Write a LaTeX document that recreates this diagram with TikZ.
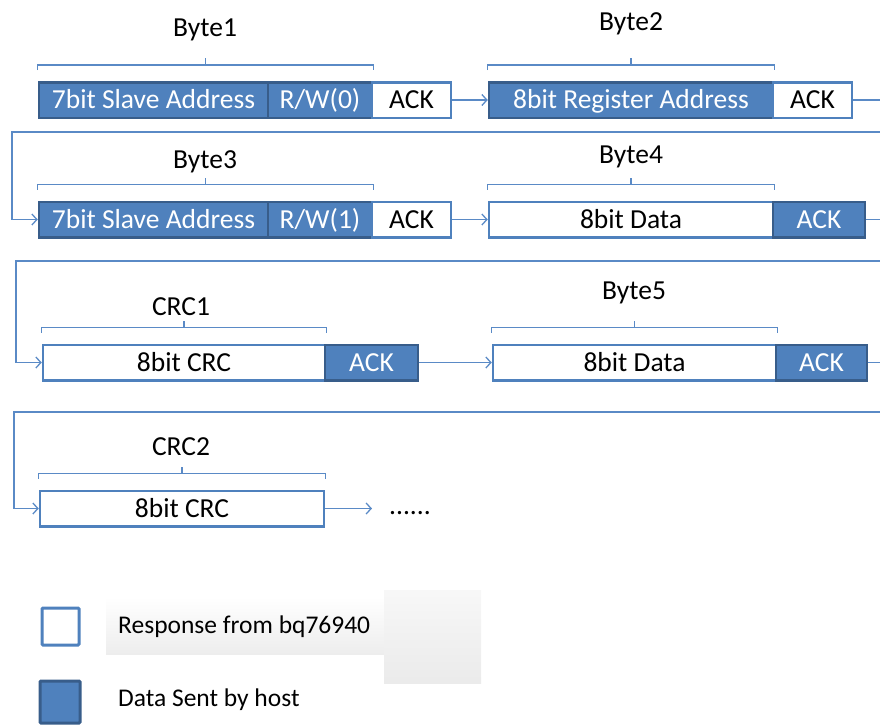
\documentclass[tikz,border=0pt]{standalone}
\usepackage{fontspec}
\setmainfont{Carlito}
\usetikzlibrary{calc,arrows.meta}
\definecolor{hostblue}{HTML}{4F81BD}
\definecolor{hostedge}{HTML}{385D8A}
\definecolor{wireblue}{HTML}{5A8AC6}
\tikzset{
	cellfont/.style={font=\fontsize{27.5}{32}\selectfont, text height=17.7pt, text depth=0pt},
	host/.style={cellfont, draw=hostedge, fill=hostblue, text=white, line width=2.5pt, minimum height=35.5pt, inner sep=0pt},
	resp/.style={cellfont, draw=hostblue, fill=white, text=black, line width=2.5pt, minimum height=35.5pt, inner sep=0pt},
	link/.style={draw=wireblue, line width=1.3pt, -{Straight Barb[length=5pt,width=11pt]}},
	brace/.style={draw=wireblue, line width=1.2pt},
	bytelabel/.style={cellfont, text=black},
	keylabel/.style={font=\fontsize{25.5}{30}\selectfont, text height=16.4pt, text depth=0pt, text=black}
}
\def\bytebrace(#1)(#2){\draw[brace] ([yshift=11pt]#1.north west) -- ([yshift=16pt]#1.north west) -- ([yshift=16pt]#2.north east) -- ([yshift=11pt]#2.north east);
	\draw[brace] ($([yshift=16pt]#1.north west)!0.5!([yshift=16pt]#2.north east)$) -- ++(0,-7);}

\begin{document}
\begin{tikzpicture}[x=1pt, y=-1pt]
		%%%%% START %%%%%
		\useasboundingbox (0, 0) rectangle (880, 724);
		\clip (0, 0) rectangle (880, 724);
		
		% first row: write slave address, register address
		\node[host, minimum width=229] (saddr1) at (153.5, 100) {7bit Slave Address};
		\node[host, minimum width=104] (rw1) at (320, 100) {R/W(0)};
		\node[resp, minimum width=79] (ack1) at (411.5, 100) {ACK};
		\node[host, minimum width=284] (reg) at (631, 100) {8bit Register Address};
		\node[resp, minimum width=79] (ack2) at (812.5, 100) {ACK};
		\node[bytelabel] (lbyte1) at (205, 28) {Byte1};
		\node[bytelabel] (lbyte2) at (631, 22) {Byte2};
		\bytebrace(saddr1)(rw1)
		\bytebrace(reg)(reg)
		
		% second row: read slave address, data
		\node[host, minimum width=229] (saddr3) at (153.5, 219.5) {7bit Slave Address};
		\node[host, minimum width=104] (rw3) at (320, 219.5) {R/W(1)};
		\node[resp, minimum width=79] (ack3) at (411.5, 219.5) {ACK};
		\node[resp, minimum width=284] (data4) at (631, 219.5) {8bit Data};
		\node[host, minimum width=92] (ack4) at (819, 219.5) {ACK};
		\node[bytelabel] (lbyte3) at (205, 160) {Byte3};
		\node[bytelabel] (lbyte4) at (631, 155) {Byte4};
		\bytebrace(saddr3)(rw3)
		\bytebrace(data4)(data4)
		
		% third row: crc, data
		\node[resp, minimum width=282] (crc1) at (184, 362.5) {8bit CRC};
		\node[host, minimum width=93] (ack5) at (371.5, 362.5) {ACK};
		\node[resp, minimum width=283] (data5) at (634.5, 362.5) {8bit Data};
		\node[host, minimum width=91] (ack6) at (821.5, 362.5) {ACK};
		\node[bytelabel] (lcrc1) at (181, 307) {CRC1};
		\node[bytelabel] (lbyte5) at (634, 291) {Byte5};
		\bytebrace(crc1)(crc1)
		\bytebrace(data5)(data5)
		
		% fourth row
		\node[resp, minimum width=284] (crc2) at (182, 508.5) {8bit CRC};
		\node[bytelabel] (lcrc2) at (181, 447) {CRC2};
		\bytebrace(crc2)(crc2)
		\node[bytelabel, anchor=base] (dots) at (410, 514) {......};
		\coordinate (moreend) at (372, 508.5);
		
		% connectors
		\draw[link] (ack1.east) -- (reg.west);
		\draw[link] (ack2.east) -- ++(27, 0) |- (12, 132) |- (saddr3.west);
		\draw[link] (ack3.east) -- (data4.west);
		\draw[link] (ack4.east) -- ++(30, 0) |- (16, 261) |- (crc1.west);
		\draw[link] (ack5.east) -- (data5.west);
		\draw[link] (ack6.east) -- ++(30, 0) |- (14, 412) |- (crc2.west);
		\draw[link] (crc2.east) -- (moreend);
		
		% legend
		\shade[top color=white, bottom color=black!7] (106, 597) rectangle (384, 654);
		\shade[top color=black!3, bottom color=black!8] (384, 590) rectangle (481, 683);
		\node[draw=hostblue, fill=white, line width=3pt, minimum size=37, inner sep=0pt, rounded corners=1pt] (keyresp) at (60.5, 626.5) {};
		\node[draw=hostedge, fill=hostblue, line width=3pt, minimum width=40, minimum height=42, inner sep=0pt, rounded corners=1pt] (keyhost) at (60, 702) {};
		\node[keylabel, anchor=west, inner sep=0pt] (tresp) at (118, 625.5) {Response from bq76940};
		\node[keylabel, anchor=west, inner sep=0pt] (thost) at (118, 698.5) {Data Sent by host};
		
		%%%%% END %%%%%
	\end{tikzpicture}
\end{document}
